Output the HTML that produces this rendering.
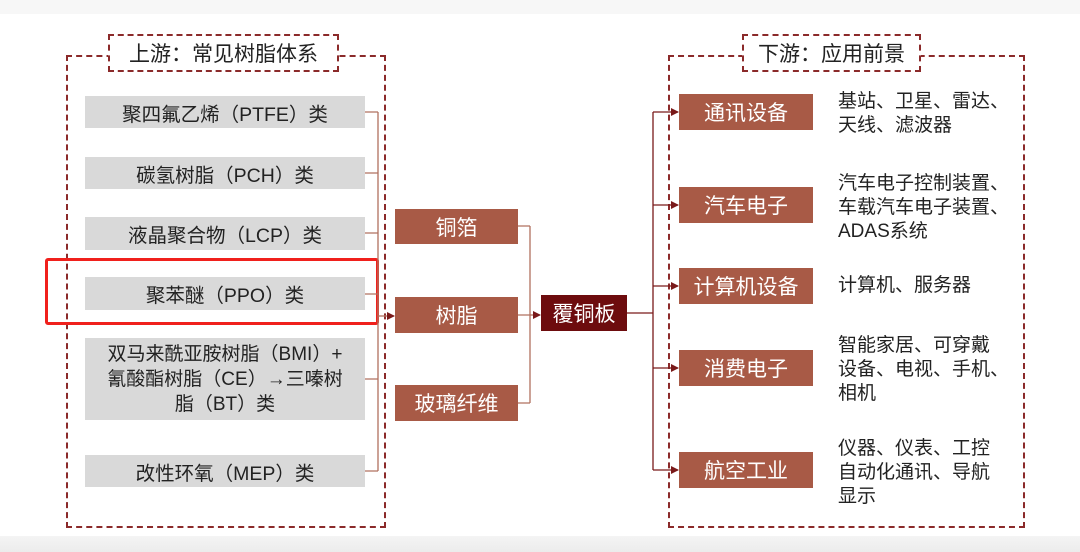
<!DOCTYPE html>
<html><head><meta charset="utf-8"><style>
body{margin:0;width:1080px;height:552px;overflow:hidden;background:#fff;font-family:"Liberation Sans","Noto Sans CJK SC",sans-serif;position:relative}
.a{position:absolute;box-sizing:border-box}
.g{background:#d9d9d9;color:#222;font-size:19.5px;display:flex;align-items:center;justify-content:center;text-align:center;left:85px;width:280px;white-space:nowrap}
.m{background:#a85a46;color:#fff;font-size:21px;display:flex;align-items:center;justify-content:center}
.r{left:679px;width:134px;height:36px}
.d{left:838px;font-size:19px;line-height:24px;color:#222;white-space:nowrap}
.t{background:#fff;border:2px dashed #8b2a2a;font-size:21px;color:#222;display:flex;align-items:center;justify-content:center}
</style></head><body>
<div class="a" style="left:0;top:536px;width:1080px;height:16px;background:linear-gradient(#f4f4f4,#ececec)"></div>
<div class="a" style="left:0;top:0;width:1080px;height:14px;background:#f7f7f7"></div>
<div class="a" style="left:66px;top:55px;width:320px;height:473px;border:2px dashed #8b2a2a"></div>
<div class="a" style="left:668px;top:55px;width:357px;height:473px;border:2px dashed #8b2a2a"></div>
<div class="a t" style="left:108px;top:34px;width:231px;height:38px">上游：常见树脂体系</div>
<div class="a t" style="left:742px;top:34px;width:179px;height:38px">下游：应用前景</div>
<div class="a g" style="top:96px;height:32px">聚四氟乙烯（PTFE）类</div>
<div class="a g" style="top:157px;height:32px">碳氢树脂（PCH）类</div>
<div class="a g" style="top:217px;height:33px">液晶聚合物（LCP）类</div>
<div class="a g" style="top:277px;height:33px">聚苯醚（PPO）类</div>
<div class="a g" style="top:338px;height:82px;line-height:25px;font-size:19px">双马来酰亚胺树脂（BMI）+<br>氰酸酯树脂（CE）→三嗪树<br>脂（BT）类</div>
<div class="a g" style="top:455px;height:32px">改性环氧（MEP）类</div>
<div class="a" style="left:45px;top:258px;width:334px;height:67px;border:3px solid #f0201c;border-radius:3px"></div>
<div class="a m" style="left:395px;top:209px;width:123px;height:35px">铜箔</div>
<div class="a m" style="left:395px;top:297px;width:123px;height:36px">树脂</div>
<div class="a m" style="left:395px;top:385px;width:123px;height:36px">玻璃纤维</div>
<div class="a m" style="left:541px;top:295px;width:86px;height:36px;background:#6d0c0e">覆铜板</div>
<div class="a m r" style="top:94px">通讯设备</div>
<div class="a m r" style="top:187px">汽车电子</div>
<div class="a m r" style="top:268px">计算机设备</div>
<div class="a m r" style="top:350px">消费电子</div>
<div class="a m r" style="top:452px">航空工业</div>
<div class="a d" style="top:90px">基站、卫星、雷达、<br>天线、滤波器</div>
<div class="a d" style="top:172px">汽车电子控制装置、<br>车载汽车电子装置、<br>ADAS系统</div>
<div class="a d" style="top:274px">计算机、服务器</div>
<div class="a d" style="top:334px">智能家居、可穿戴<br>设备、电视、手机、<br>相机</div>
<div class="a d" style="top:437px">仪器、仪表、工控<br>自动化通讯、导航<br>显示</div>
<svg class="a" style="left:0;top:0" width="1080" height="552">
<defs><marker id="ar" markerWidth="8" markerHeight="8" refX="7" refY="4" orient="auto" markerUnits="userSpaceOnUse"><path d="M0,0L8,4L0,8z" fill="#7a1a1a"/></marker></defs>
<g stroke="#b0705f" stroke-width="1.3" fill="none">
<path d="M365 112H378M365 173H378M365 233H378M365 294H378M365 379H378M365 471H378M378 112V471"/>
<path d="M378 316H394" marker-end="url(#ar)"/>
<path d="M518 226H530M518 315H530M518 403H530M530 226V403"/>
<path d="M530 315H540" marker-end="url(#ar)"/>
</g>
<g stroke="#7a1a1a" stroke-width="1.3" fill="none">
<path d="M627 313H653M653 112V470"/>
<path d="M653 112H678" marker-end="url(#ar)"/>
<path d="M653 205H678" marker-end="url(#ar)"/>
<path d="M653 286H678" marker-end="url(#ar)"/>
<path d="M653 368H678" marker-end="url(#ar)"/>
<path d="M653 470H678" marker-end="url(#ar)"/>
</g>
</svg>
</body></html>
